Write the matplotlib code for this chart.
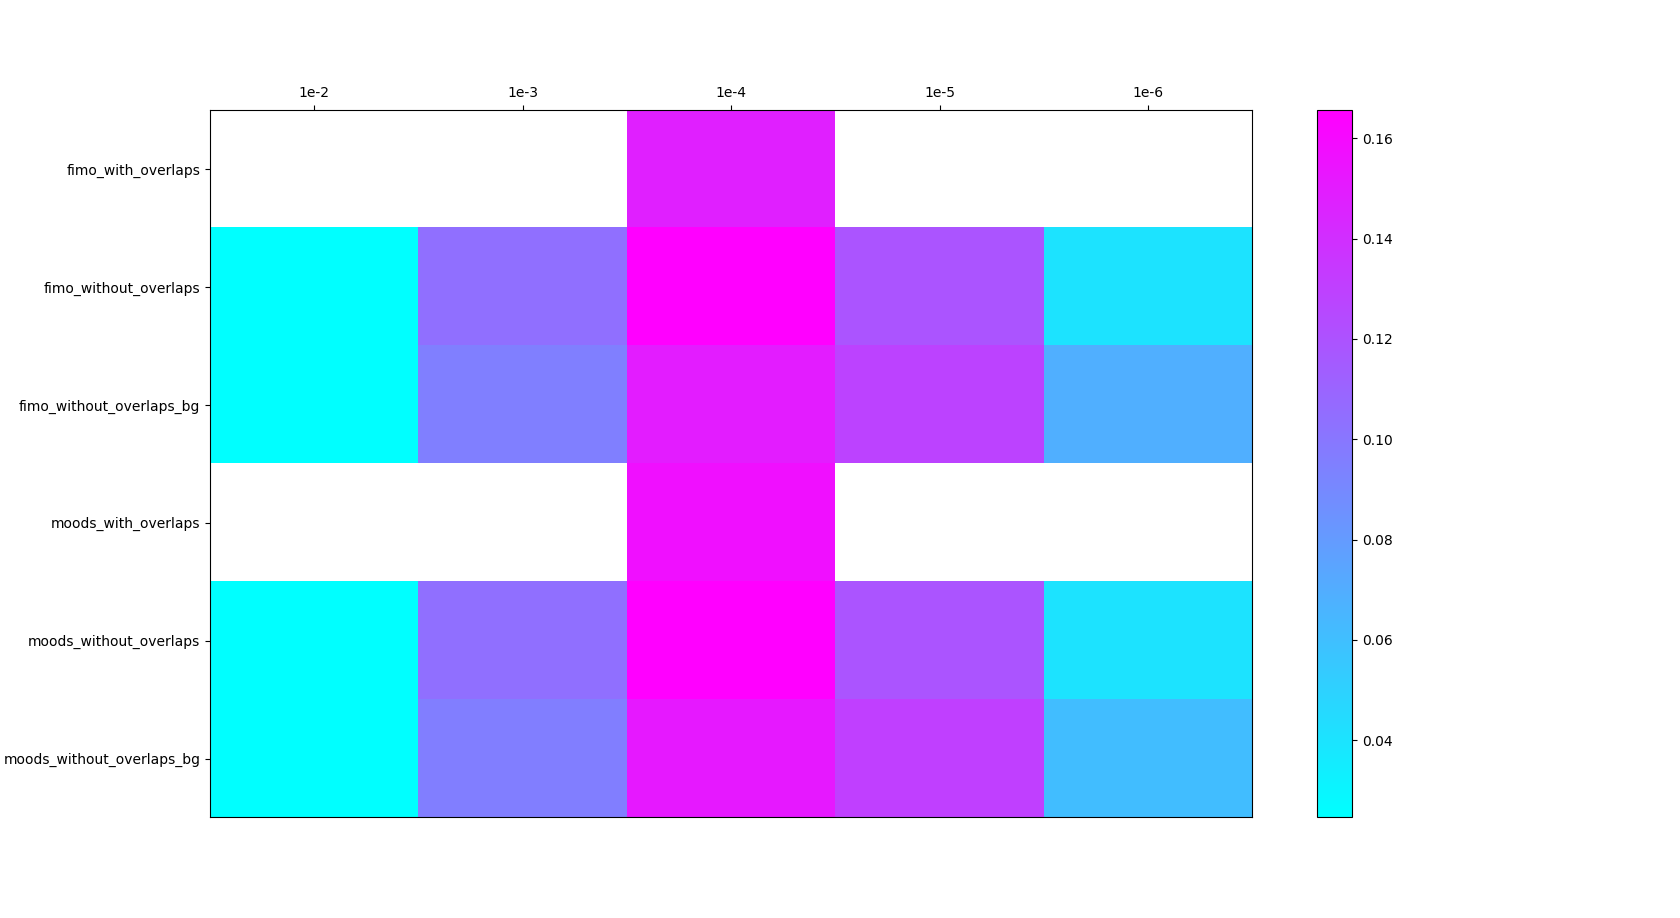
import numpy as np
import matplotlib
matplotlib.use("Agg")
import matplotlib.pyplot as plt

rows = ["fimo_with_overlaps", "fimo_without_overlaps", "fimo_without_overlaps_bg",
        "moods_with_overlaps", "moods_without_overlaps", "moods_without_overlaps_bg"]
cols = ["1e-2", "1e-3", "1e-4", "1e-5", "1e-6"]

nan = np.nan
fimo_with = [nan, nan, 0.1484, nan, nan]
fimo_without = [0.0246, 0.1043, 0.1656, 0.1191, 0.0401]
fimo_without_bg = [0.0246, 0.0954, 0.1500, 0.1286, 0.0689]
moods_with = [nan, nan, 0.1570, nan, nan]
moods_without = [0.0246, 0.1043, 0.1656, 0.1191, 0.0401]
moods_without_bg = [0.0246, 0.0960, 0.1516, 0.1308, 0.0610]

data = np.array([fimo_with, fimo_without, fimo_without_bg,
                 moods_with, moods_without, moods_without_bg])

fig = plt.figure(figsize=(16.8, 9.18), dpi=100)
ax = fig.add_axes([0.125, 0.1095, 0.6205, 0.7705])
cax = fig.add_axes([0.784, 0.1095, 0.0208, 0.7705])

im = ax.imshow(data, cmap="cool", aspect="auto", interpolation="nearest")
ax.xaxis.tick_top()
ax.set_xticks(np.arange(len(cols)))
ax.set_xticklabels(cols)
ax.set_yticks(np.arange(len(rows)))
ax.set_yticklabels(rows)

fig.colorbar(im, cax=cax)

fig.savefig("out.png", dpi=100)
